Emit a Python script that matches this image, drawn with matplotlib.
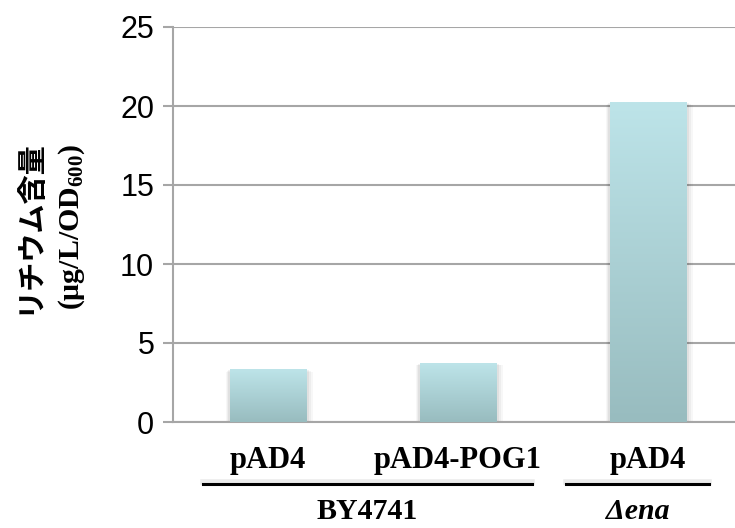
import matplotlib
matplotlib.use("Agg")
import matplotlib.pyplot as plt
import numpy as np
from matplotlib.colors import LinearSegmentedColormap
import matplotlib.transforms as mtransforms

categories = ["pAD4", "pAD4-POG1", "pAD4"]
values = [3.3, 3.7, 20.2]
groups = ["BY4741", "Δena"]
yticks = [0, 5, 10, 15, 20, 25]

plt.rcParams['mathtext.fontset'] = 'custom'
plt.rcParams['mathtext.rm'] = 'Liberation Serif:bold'
plt.rcParams['mathtext.it'] = 'Liberation Serif:bold'
plt.rcParams['mathtext.bf'] = 'Liberation Serif:bold'

W, H = 735, 528
fig = plt.figure(figsize=(W/100, H/100), dpi=100)
ax_left, ax_right = 173, 735
ax_top, ax_bot = 27, 422
ax = fig.add_axes([ax_left/W, 1 - ax_bot/H, (ax_right-ax_left)/W, (ax_bot-ax_top)/H])

grid_c = "#A6A6A6"
x = np.arange(len(categories))
width = 0.405
cmap = LinearSegmentedColormap.from_list("g", ["#98BCBF", "#BDE4E9"])
grad = np.linspace(0, 1, 256).reshape(-1, 1)
for xi, v in zip(x, values):
    # soft shadow
    for k, a in enumerate([0.05, 0.04, 0.03]):
        off = 0.012 * (k + 1)
        ax.add_patch(plt.Rectangle((xi - width/2 - off*0.5, 0), width + off*1.5, v - off*3,
                                   color="black", alpha=a, lw=0, zorder=2.5))
    ax.imshow(grad, extent=[xi - width/2, xi + width/2, 0, v], origin="lower",
              cmap=cmap, aspect="auto", zorder=3, interpolation="bilinear")

ax.set_xlim(-0.5, 2.5 - 8/190)
ax.set_ylim(0, 25)
ax.set_yticks(yticks)
ax.yaxis.grid(True, color=grid_c, lw=1.5, zorder=1)
ax.set_axisbelow(True)
for s in ["top", "right"]:
    ax.spines[s].set_visible(False)
ax.spines["left"].set_color(grid_c)
ax.spines["left"].set_linewidth(1.5)
ax.spines["bottom"].set_color(grid_c)
ax.spines["bottom"].set_linewidth(1.5)
ax.tick_params(axis="y", length=7.5, width=1.5, color=grid_c, pad=6,
               labelsize=22, labelfontfamily="Liberation Sans")
ax.set_xticks(x)
ax.set_xticklabels(categories, fontfamily="Liberation Serif", fontweight="bold", fontsize=22)
ax.tick_params(axis="x", length=0, pad=17)

trans = mtransforms.blended_transform_factory(ax.transData, ax.transAxes)
brackets = [(-0.342, 1.389), (1.568, 2.321)]
ly = -0.157
for (a, b), g in zip(brackets, groups):
    ax.plot([a, b], [ly + 0.005, ly + 0.005], color="black", lw=4, alpha=0.08,
            transform=trans, clip_on=False)
    ax.plot([a, b], [ly, ly], color="black", lw=2.2, transform=trans, clip_on=False)
    style = "italic" if g.startswith("Δ") else "normal"
    ax.text((a + b) / 2, -0.226, g, transform=trans, ha="center", va="center",
            fontfamily="Liberation Serif", fontweight="bold", fontstyle=style, fontsize=21.5)

cy = 1 - 227/H
fig.text(28/W, cy, "リチウム含量", rotation=90, ha="center", va="center",
         fontfamily=["Noto Sans CJK JP", "DejaVu Sans"], fontweight="bold", fontsize=21)
fig.text(72/W, cy, r"(μg/L/OD$_{600}$)", rotation=90, ha="center", va="center",
         fontfamily="Liberation Serif", fontweight="bold", fontsize=21.5)

fig.savefig("out.png", dpi=100)
